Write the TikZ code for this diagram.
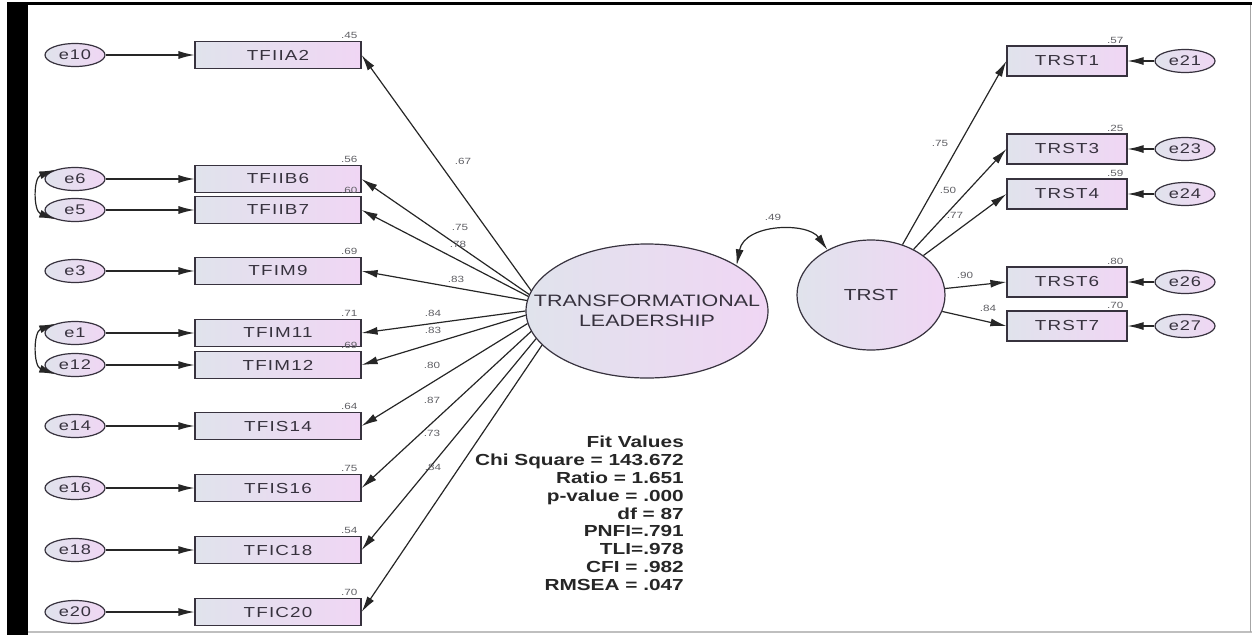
\documentclass[tikz,border=0pt]{standalone}
\usepackage{fontspec}
\setmainfont{Liberation Sans}[FakeStretch=1.3]
\usetikzlibrary{arrows.meta,shapes.geometric}
\definecolor{boxl}{RGB}{224,227,236}
\definecolor{boxr}{RGB}{240,214,244}
\definecolor{ink}{RGB}{55,50,62}
\definecolor{numgray}{RGB}{95,95,100}
\tikzset{
  obs/.style={draw=ink,line width=1.2pt,left color=boxl,right color=boxr,
    minimum width=166pt,minimum height=27pt,inner sep=0pt,text=ink,
    font=\fontsize{14.5}{14.5}\selectfont\addfontfeature{LetterSpace=8}},
  obsr/.style={obs,minimum width=120pt,minimum height=30pt},
  err/.style={ellipse,draw=ink,line width=1.2pt,left color=boxl,right color=boxr,
    minimum width=60pt,minimum height=23pt,inner sep=0pt,text=ink,
    font=\fontsize{14}{14}\selectfont\addfontfeature{LetterSpace=6}},
  lat/.style={ellipse,draw=ink,line width=1.2pt,left color=boxl,right color=boxr,
    inner sep=0pt},
  lattext/.style={inner sep=0pt,text=ink,align=center},
  num/.style={inner sep=1pt,text=numgray,font=\fontsize{9}{9}\selectfont},
  lnk/.style={line width=1.2pt,draw=black!85,-{Latex[length=16pt,width=8pt]}},
  cov/.style={line width=1.2pt,draw=black!85,
    {Latex[length=16pt,width=8pt]}-{Latex[length=16pt,width=8pt]}},
  fitstat/.style={align=right,inner sep=0pt,text=black!85,
    font=\bfseries\fontsize{16}{17.8}\selectfont}
}
\begin{document}
\begin{tikzpicture}[x=1pt,y=-1pt]
  \useasboundingbox (0,0) rectangle (1252,635);
  %% frame
  \fill[black] (7,2) rectangle (28,635);
  \fill[black] (7,2) rectangle (1252,5);
  \draw[black!25,line width=2pt] (28,632) -- (1252,632);
  \draw[black!35] (1250,5) -- (1250,632);
  %% latent variables
  \node[lat,minimum width=242pt,minimum height=134pt] (tl) at (647,311) {};
  \node[lattext,font=\fontsize{16.5}{20}\selectfont] (tltext) at (tl) {TRANSFORMATIONAL\\LEADERSHIP};
  \node[lat,minimum width=148pt,minimum height=110pt] (trst) at (871,295) {};
  \node[lattext,font=\fontsize{16}{16}\selectfont] (trsttext) at (trst) {TRST};
  \draw[cov] (tl.27) .. controls +(8,-42) and +(-20,-28) .. (trst.134);
  \node[num] (l49) at (773,217) {.49};
  %% left indicators
  \foreach \n/\e/\y/\r/\a/\l/\lx/\ly in {
      TFIIA2/e10/55/.45/170/.67/463/161,
      TFIIB6/e6/179/.56/172/.75/460/227,
      TFIIB7/e5/210/.60/173/.78/458/244,
      TFIM9/e3/271/.69/175/.83/456/279,
      TFIM11/e1/333/.71/180/.84/433/313,
      TFIM12/e12/365/.69/182/.83/433/330,
      TFIS14/e14/426/.64/186/.80/432/365,
      TFIS16/e16/488/.75/190/.87/432/400,
      TFIC18/e18/550/.54/194/.73/432/433,
      TFIC20/e20/612/.70/198/.84/433/467} {
    \node[obs] (\n) at (278,\y) {\n};
    \node[err] (\e) at (75,\y) {\e};
    \draw[lnk] (\e) -- (\n);
    \draw[lnk] (tl.\a) -- (\n.east);
    \node[num,anchor=south east] (r\n) at ([xshift=-3pt,yshift=1pt]\n.north east) {\r};
    \node[num] (l\n) at (\lx,\ly) {\l};
  }
  \draw[cov] (e6.155) .. controls +(-22,8) and +(-22,-8) .. (e5.205);
  \draw[cov] (e1.155) .. controls +(-22,8) and +(-22,-8) .. (e12.205);
  %% right indicators
  \foreach \n/\e/\y/\r/\a/\l/\lx/\ly in {
      TRST1/e21/61/.57/58/.75/940/143,
      TRST3/e23/149/.25/47/.50/948/190,
      TRST4/e24/194/.59/37/.77/955/215,
      TRST6/e26/282/.80/5/.90/965/275,
      TRST7/e27/326/.70/347/.84/988/308} {
    \node[obsr] (\n) at (1067,\y) {\n};
    \node[err] (\e) at (1185,\y) {\e};
    \draw[lnk] (\e) -- (\n);
    \draw[lnk] (trst.\a) -- (\n.west);
    \node[num,anchor=south east] (r\n) at ([xshift=-3pt,yshift=1pt]\n.north east) {\r};
    \node[num] (l\n) at (\lx,\ly) {\l};
  }
  %% fit values
  \node[fitstat,anchor=north east] (fitv) at (684,436) {Fit Values\\Chi Square = 143.672\\Ratio = 1.651\\p-value = .000\\df = 87\\PNFI=.791\\TLI=.978\\CFI = .982\\RMSEA = .047};
\end{tikzpicture}
\end{document}
